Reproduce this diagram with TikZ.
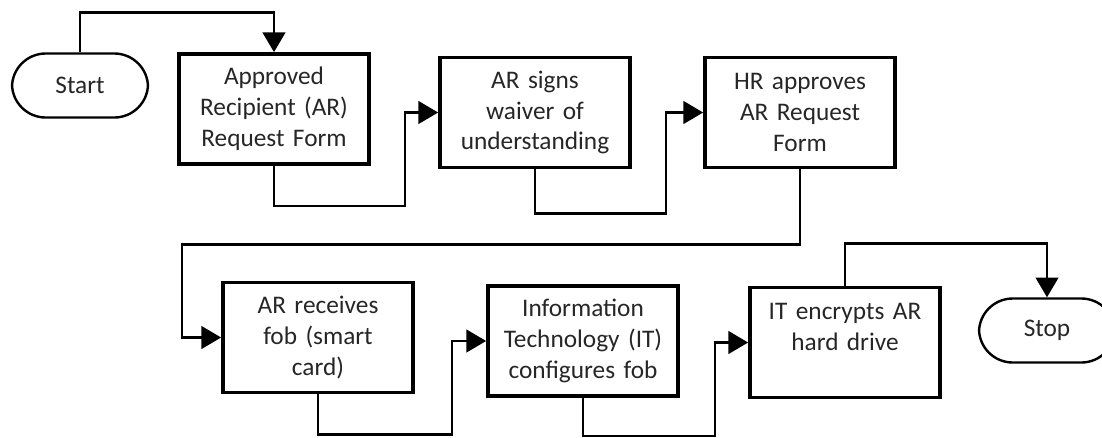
\documentclass[tikz,border=0pt]{standalone}
\usepackage{fontspec}
\setmainfont{Carlito}
\usetikzlibrary{arrows.meta}

\begin{document}
\begin{tikzpicture}[x=0.025cm, y=-0.025cm,
	every node/.style={font=\fontsize{18}{22}\selectfont, text=black!85},
	proc/.style={draw, line width=2.6pt, minimum width=4.75cm, minimum height=2.75cm, text width=4.5cm, align=center, inner sep=0pt},
	term/.style={draw, line width=1.7pt, rounded corners=24pt, minimum width=3.4cm, minimum height=1.6cm},
	flow/.style={line width=1.8pt, -{Triangle[length=14pt, width=16pt]}}]
\useasboundingbox (0,0) rectangle (1102,437);
% top row
\node[term] (start) at (80,85.5) {Start};
\node[proc] (form) at (274,109) {Approved\\Recipient (AR)\\Request Form};
\node[proc] (waiver) at (535,112.5) {AR signs\\waiver of\\understanding};
\node[proc] (hr) at (800,112.5) {HR approves\\AR Request\\Form};
% bottom row
\node[proc] (fob) at (318,337.5) {AR receives\\fob (smart\\card)};
\node[proc] (config) at (583,341) {Information\\Technology (IT)\\configures fob};
\node[proc] (encrypt) at (845,342.5) {IT encrypts AR\\hard drive\\\mbox{}};
\node[term] (stop) at (1047,330.5) {Stop};
% connectors
\draw[flow] (start.north) -- ++(0,-40) -| (form.north);
\draw[flow] (form.south) |- ++(131,40) |- (waiver.west);
\draw[flow] (waiver.south) |- ++(131,44) |- (hr.west);
\draw[flow] (hr.south) |- ++(-618,75) |- (fob.west);
\draw[flow] (fob.south) |- ++(134,40) |- (config.west);
\draw[flow] (config.south) |- ++(132,38) |- (encrypt.west);
\draw[flow] (encrypt.north) -- ++(0,-42) -| (stop.north);
\end{tikzpicture}
\end{document}
